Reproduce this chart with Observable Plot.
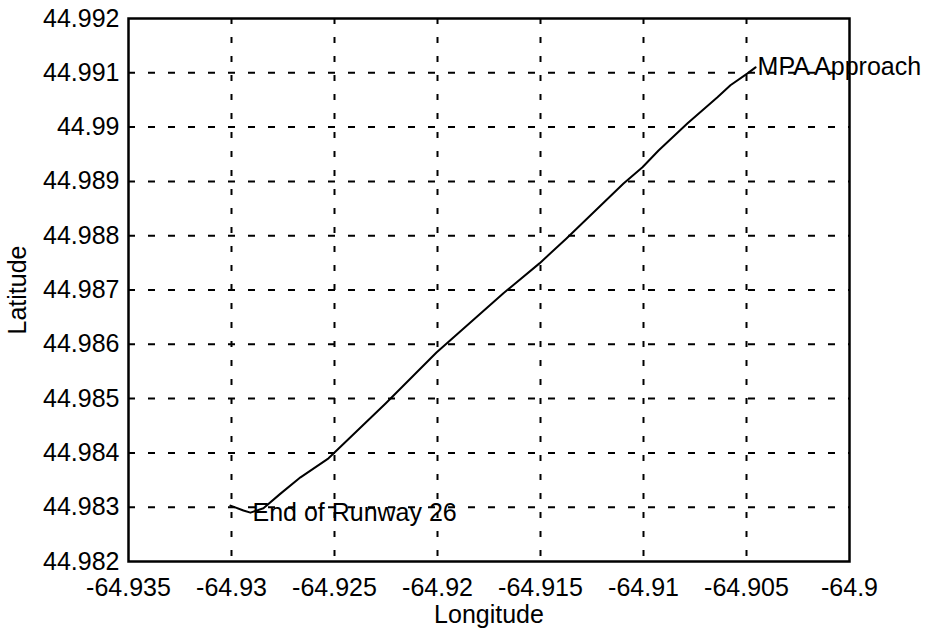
<!DOCTYPE html>
<html>
<head>
<meta charset="utf-8">
<script src="https://cdn.jsdelivr.net/npm/d3@7"></script>
<script src="https://cdn.jsdelivr.net/npm/@observablehq/plot@0.6"></script>
<style>
  html, body { margin: 0; padding: 0; background: #fff; }
</style>
</head>
<body>
<div id="chart"></div>
<script>
// Flight path (longitude, latitude)
const lon = [-64.93005, -64.92942, -64.92908, -64.92845, -64.92762, -64.92665, -64.92529, -64.92252,
             -64.92005, -64.91680, -64.91505, -64.91374, -64.91097, -64.91005, -64.90927, -64.90786,
             -64.90641, -64.90578, -64.90495, -64.90456];
const lat = [44.98303, 44.98294, 44.98290, 44.98298, 44.98325, 44.98355, 44.98390, 44.98491,
             44.98585, 44.98694, 44.98749, 44.98795, 44.98896, 44.98926, 44.98957, 44.99007,
             44.99055, 44.99077, 44.99099, 44.99110];

// Annotations
const labelText = ["End of Runway 26", "MPA Approach"];
const labelLon = [-64.92908, -64.90456];
const labelLat = [44.98290, 44.99110];

// Ticks
const xTicks = [-64.935, -64.93, -64.925, -64.92, -64.915, -64.91, -64.905, -64.9];
const yTicks = [44.982, 44.983, 44.984, 44.985, 44.986, 44.987, 44.988, 44.989, 44.99, 44.991, 44.992];

const path = lon.map((x, i) => ({x, y: lat[i]}));
const labels = labelText.map((t, i) => ({t, x: labelLon[i], y: labelLat[i]}));

const chart = Plot.plot({
  width: 937,
  height: 634,
  marginLeft: 128,
  marginRight: 88,
  marginTop: 18,
  marginBottom: 73,
  style: {fontFamily: "'Liberation Sans', Arial, Helvetica, sans-serif", fontSize: "25px", color: "#000", background: "#fff"},
  x: {domain: [-64.935, -64.9]},
  y: {domain: [44.982, 44.992]},
  marks: [
    Plot.gridX(xTicks.slice(1, -1), {stroke: "#000", strokeOpacity: 1, strokeWidth: 2, strokeDasharray: "6,13"}),
    Plot.gridY(yTicks.slice(1, -1), {stroke: "#000", strokeOpacity: 1, strokeWidth: 2, strokeDasharray: "7,13"}),
    Plot.frame({stroke: "#000", strokeWidth: 2.5}),
    Plot.axisX(xTicks, {tickSize: 0, tickPadding: 17, tickFormat: d => String(d), fontSize: 25,
      label: "Longitude", labelAnchor: "center", labelArrow: "none", labelOffset: 61}),
    Plot.axisY(yTicks, {tickSize: 0, tickPadding: 9, tickFormat: d => String(d), fontSize: 25,
      label: "Latitude", labelAnchor: "center", labelArrow: "none", labelOffset: 120}),
    Plot.line(path, {x: "x", y: "y", stroke: "#000", strokeWidth: 2}),
    Plot.text(labels, {x: "x", y: "y", text: "t", textAnchor: "start", lineAnchor: "middle", dx: 2, fill: "#000", fontSize: 25})
  ]
});
document.getElementById("chart").appendChild(chart);
</script>
</body>
</html>
